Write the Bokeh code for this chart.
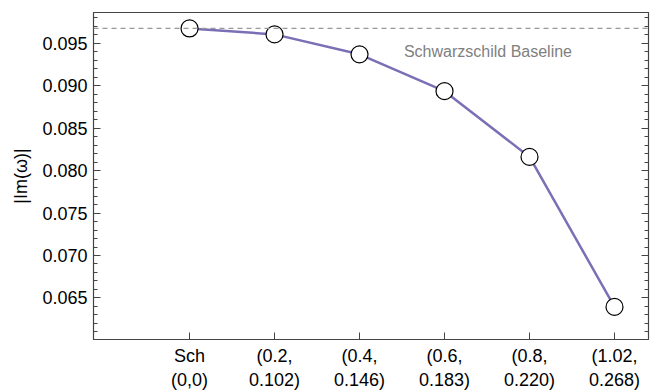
from bokeh.plotting import figure
from bokeh.models import FixedTicker, Span, Label, LinearAxis, Range1d
from bokeh.embed import file_html
from bokeh.resources import INLINE

categories = ["Sch\n(0,0)", "(0.2,\n0.102)", "(0.4,\n0.146)", "(0.6,\n0.183)", "(0.8,\n0.220)", "(1.02,\n0.268)"]
im_omega = [0.09676, 0.09606, 0.09371, 0.08937, 0.08162, 0.06394]
baseline = 0.09676
yticks = [0.065, 0.070, 0.075, 0.080, 0.085, 0.090, 0.095]

xs = list(range(len(categories)))
FONT = "Liberation Sans"
AX = "#444444"
minor = [0.061 + 0.001 * i for i in range(38)]

p = figure(width=652, height=392, output_backend="svg", toolbar_location=None,
           x_range=Range1d(-1.13, 5.4), y_range=Range1d(0.0601, 0.09864),
           min_border_left=93, min_border_right=4, min_border_top=12, min_border_bottom=52)
p.grid.visible = False
p.outline_line_color = AX
p.outline_line_width = 1.2
p.background_fill_color = "white"
p.border_fill_color = "white"

p.add_layout(Span(location=baseline, dimension="width", line_color="#999999",
                  line_dash="5 4", line_width=1.2))

p.line(xs, im_omega, line_color="#7b6fb5", line_width=2.5)
p.scatter(xs, im_omega, size=17, fill_color="white", line_color="black", line_width=1.2)

p.add_layout(Label(x=4.5, y=0.0940, text="Schwarzschild Baseline", text_align="right",
                   text_baseline="middle", text_font=FONT, text_font_size="16px",
                   text_color="#808080"))

# bottom axis
xa = p.xaxis[0]
xa.ticker = FixedTicker(ticks=xs)
xa.major_label_overrides = {i: c for i, c in enumerate(categories)}
xa.major_tick_in = 7
xa.major_tick_out = 0
xa.minor_tick_line_color = None
xa.axis_line_color = AX
xa.major_tick_line_color = AX
xa.major_label_text_font = FONT
xa.major_label_text_font_size = "18px"
xa.major_label_text_color = "black"
xa.major_label_standoff = 6

# left axis
ya = p.yaxis[0]
ya.ticker = FixedTicker(ticks=yticks, minor_ticks=minor)
ya.major_label_overrides = {t: f"{t:.3f}" for t in yticks}
ya.major_tick_in = 7
ya.major_tick_out = 0
ya.minor_tick_in = 4
ya.minor_tick_out = 0
ya.axis_line_color = AX
ya.major_tick_line_color = AX
ya.minor_tick_line_color = AX
ya.major_label_text_font = FONT
ya.major_label_text_font_size = "18px"
ya.major_label_text_color = "black"
ya.major_label_standoff = 6
ya.axis_label = "|Im(ω)|"
ya.axis_label_text_font = FONT
ya.axis_label_text_font_size = "18px"
ya.axis_label_text_font_style = "normal"
ya.axis_label_text_color = "black"
ya.axis_label_standoff = 8

# right axis
ra = LinearAxis(ticker=FixedTicker(ticks=yticks, minor_ticks=minor))
ra.major_label_overrides = {t: "" for t in yticks}
ra.major_tick_in = 7
ra.major_tick_out = 0
ra.minor_tick_in = 4
ra.minor_tick_out = 0
ra.axis_line_color = AX
ra.major_tick_line_color = AX
ra.minor_tick_line_color = AX
p.add_layout(ra, "right")

open("out.html", "w").write(file_html(p, INLINE))
